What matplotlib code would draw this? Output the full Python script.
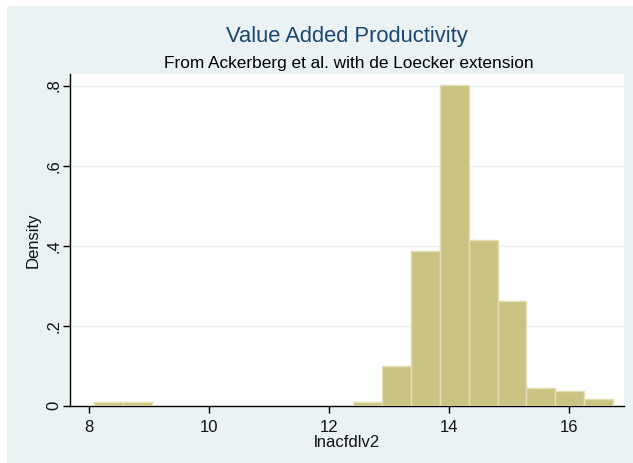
import matplotlib.pyplot as plt
from matplotlib.patches import Rectangle

# histogram of lnacfdlv2, 18 equal-width bins
bin_start = 8.08
bin_width = 0.4806
density = [0.008, 0.008, 0, 0, 0, 0, 0, 0, 0,
           0.008, 0.098, 0.3875, 0.8025, 0.414, 0.262, 0.044, 0.0375, 0.0175]
xticks = [8, 10, 12, 14, 16]
yticks = [0, 0.2, 0.4, 0.6, 0.8]
ytick_labels = ["0", ".2", ".4", ".6", ".8"]

W, H = 633, 463
bg = "#EAF2F3"
plt.rcParams['font.family'] = ['Liberation Sans', 'DejaVu Sans']

fig = plt.figure(figsize=(W / 100, H / 100), dpi=100, facecolor="white")
# light graph region, leaving a thin white strip top and left
fig.patches.append(Rectangle((7 / W, 0), 1 - 7 / W, 1 - 6 / H, transform=fig.transFigure,
                             facecolor=bg, edgecolor="none", zorder=-10))

ax = fig.add_axes([70 / W, (H - 405.7) / H, (624 - 70) / W, (405.7 - 74) / H])
ax.set_zorder(1)
ax.set_facecolor("white")

lefts = [bin_start + i * bin_width for i in range(len(density))]
xs = [x for x, d in zip(lefts, density) if d > 0]
hs = [d for d in density if d > 0]
ax.bar(xs, hs, width=bin_width, align="edge", color="#CBC384",
       edgecolor="#E4DEB2", linewidth=1, zorder=3)

ax.set_xlim(7.682, 16.915)
ax.set_ylim(0, 0.829)
ax.set_xticks(xticks)
ax.set_xticklabels([str(t) for t in xticks])
ax.set_yticks(yticks)
ax.set_yticklabels(ytick_labels, rotation=90, va="center")
ax.yaxis.grid(True, color=bg, linewidth=1, zorder=1)
ax.set_axisbelow(True)

for s in ["top", "right"]:
    ax.spines[s].set_visible(False)
for s in ["left", "bottom"]:
    ax.spines[s].set_color("black")
    ax.spines[s].set_linewidth(1)

ax.tick_params(axis="both", direction="out", length=5, width=1, colors="black",
               labelsize=12, labelcolor="#111111")
ax.tick_params(axis="x", pad=5)
ax.tick_params(axis="y", pad=1)

ax.set_xlabel("lnacfdlv2", fontsize=12, color="#111111", labelpad=0)
ax.set_ylabel("Density", fontsize=12, color="#111111", labelpad=4)

fig.text(347 / W, 1 - 36.7 / H, "Value Added Productivity", ha="center", va="center",
         fontsize=15.8, color="#1A476F")
fig.text(349 / W, 1 - 63.5 / H, "From Ackerberg et al. with de Loecker extension",
         ha="center", va="center", fontsize=12.4, color="black")

fig.savefig("out.png", dpi=100, facecolor="white")
